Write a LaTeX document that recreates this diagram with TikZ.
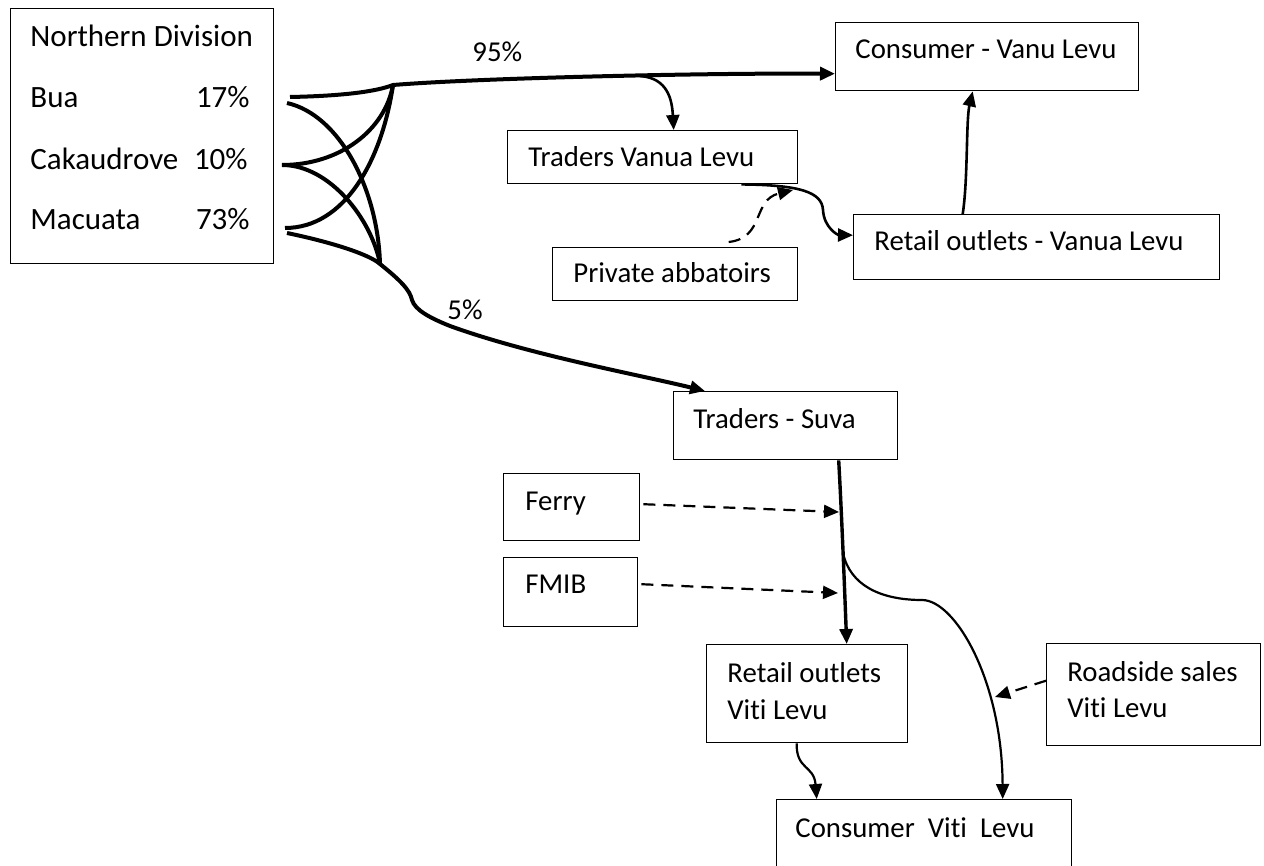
\documentclass[tikz,border=0pt]{standalone}
\usepackage{fontspec}
\setmainfont{Carlito}[Ligatures=NoCommon]
\usetikzlibrary{arrows.meta}

\begin{document}
\begin{tikzpicture}[x=0.5pt,y=-0.5pt,
    font=\fontsize{14.4}{17.5}\selectfont,
    box/.style={draw,line width=0.7pt,anchor=north west,inner sep=0pt},
    txt/.style={anchor=base west,inner sep=0pt},
    big/.style={font=\fontsize{15.5}{18.5}\selectfont},
    pct/.style={anchor=base east,inner sep=0pt,big},
    >={Triangle[length=7.5pt,width=6.5pt]},
    flow/.style={line width=2pt},
    link/.style={->,line width=1.3pt},
    extra/.style={->,line width=1.1pt,dash pattern=on 6pt off 4pt}]
\useasboundingbox (0,0) rectangle (1264,866);

\node[box,minimum width=131.5pt,minimum height=127.5pt] (nd) at (10,8) {};
\node[box,minimum width=151.5pt,minimum height=34pt] (cvl) at (835,22) {};
\node[box,minimum width=145pt,minimum height=26.5pt] (tvl) at (507,130) {};
\node[box,minimum width=183pt,minimum height=32.5pt] (rvl) at (853,214) {};
\node[box,minimum width=122.5pt,minimum height=26.5pt] (abat) at (552,247) {};
\node[box,minimum width=112pt,minimum height=34pt] (tsuva) at (673,391) {};
\node[box,minimum width=68pt,minimum height=33.5pt] (ferry) at (503,473) {};
\node[box,minimum width=67pt,minimum height=34.5pt] (fmib) at (503,557) {};
\node[box,minimum width=100.5pt,minimum height=49pt] (rtvl) at (706,644) {};
\node[box,minimum width=107pt,minimum height=51pt] (road) at (1046,643) {};
\node[box,minimum width=147.5pt,minimum height=45pt] (cvtl) at (776,799) {};

\node[txt,big] (ndt) at (30,47) {Northern Division};
\node[txt,big] (bua) at (30,108) {Bua};
\node[pct] (buap) at (250,108) {17\%};
\node[txt,big] (cak) at (30,170) {Cakaudrove};
\node[pct] (cakp) at (248,170) {10\%};
\node[txt,big] (mac) at (30,230) {Macuata};
\node[pct] (macp) at (250,230) {73\%};
\node[txt] (cvlt) at (855,59) {Consumer - Vanu Levu};
\node[txt] (tvlt) at (528,167) {Traders Vanua Levu};
\node[txt] (rvlt) at (874,251) {Retail outlets - Vanua Levu};
\node[txt] (abatt) at (573,283) {Private abbatoirs};
\node[txt] (tsuvat) at (693,428) {Traders - Suva};
\node[txt] (ferryt) at (525,510) {Ferry};
\node[txt] (fmibt) at (525,593) {FMIB};
\node[txt] (rtvlt) at (727,682) {Retail outlets};
\node[txt] (rtvlt2) at (727,719) {Viti Levu};
\node[txt] (roadt) at (1067,681) {Roadside sales};
\node[txt] (roadt2) at (1067,717) {Viti Levu};
\node[txt] (cvtlt) at (795,837) {Consumer\ \ Viti\ \ Levu};
\node[txt] (p95) at (472,62) {95\%};
\node[txt] (p5) at (447,320) {5\%};

\coordinate (bua1) at (290,97);
\coordinate (bua2) at (287,103);
\coordinate (cak1) at (282,165);
\coordinate (mac1) at (285,228);
\coordinate (mac2) at (287,233);
\coordinate (jtop) at (393,85);
\coordinate (jbot) at (380,264);
\coordinate (fork1) at (640,76);
\coordinate (inabat) at (793,190);
\coordinate (fork2) at (843,553);
\coordinate (inferry) at (839,512);
\coordinate (infmib) at (838,593);
\coordinate (inroad) at (995,697);

% districts to the two markets
\draw[flow] (bua2) .. controls (340,115) and (378,190) .. (jbot);
\draw[flow] (cak1) .. controls (340,165) and (385,130) .. (jtop);
\draw[flow] (cak1) .. controls (330,165) and (372,220) .. (jbot);
\draw[flow] (mac1) .. controls (345,228) and (382,160) .. (jtop);
\draw[flow,->] (bua1) .. controls (340,96) and (375,92) .. (jtop)
    .. controls (480,78) and (700,73) .. ([yshift=-8.5pt]cvl.west);
\draw[flow,->] (mac2) .. controls (335,243) and (370,255) .. (jbot)
    .. controls (400,280) and (410,290) .. (412,300)
    .. controls (415,310) and (430,318) .. (450,326)
    .. controls (530,355) and (640,375) .. ([xshift=16pt]tsuva.north west);

% Vanua Levu
\draw[link] (fork1) .. controls (668,78) and (672,100) .. ([xshift=10.5pt]tvl.north);
\draw[link] ([xshift=-28.5pt]tvl.south east) .. controls (800,185) and (822,192) .. (823,210)
    .. controls (824,228) and (838,235) .. ([yshift=6pt]rvl.west);
\draw[extra] ([xshift=26.75pt,yshift=2.5pt]abat.north) .. controls (765,238) and (752,200) .. (inabat);
\draw[link] ([xshift=-37pt]rvl.north) .. controls (968,180) and (966,120) .. ([xshift=-7.25pt]cvl.south);

% Viti Levu
\draw[->,line width=1.7pt] ([xshift=26.5pt]tsuva.south) .. controls (842,520) and (845,600) .. ([xshift=19.75pt]rtvl.north);
\draw[extra] ([xshift=1.5pt,yshift=1.5pt]ferry.east) -- (inferry);
\draw[extra] ([xshift=1.5pt,yshift=4pt]fmib.east) -- (infmib);
\draw[link,line width=1.1pt] (fork2) .. controls (850,585) and (880,600) .. (922,600)
    .. controls (955,600) and (1002,680) .. ([xshift=39.25pt]cvtl.north);
\draw[extra] ([yshift=7pt]road.west) -- (inroad);
\draw[link,line width=1.1pt] ([xshift=-5.25pt]rtvl.south) .. controls (796,770) and (814,765) .. ([xshift=-53.75pt]cvtl.north);
\end{tikzpicture}
\end{document}
